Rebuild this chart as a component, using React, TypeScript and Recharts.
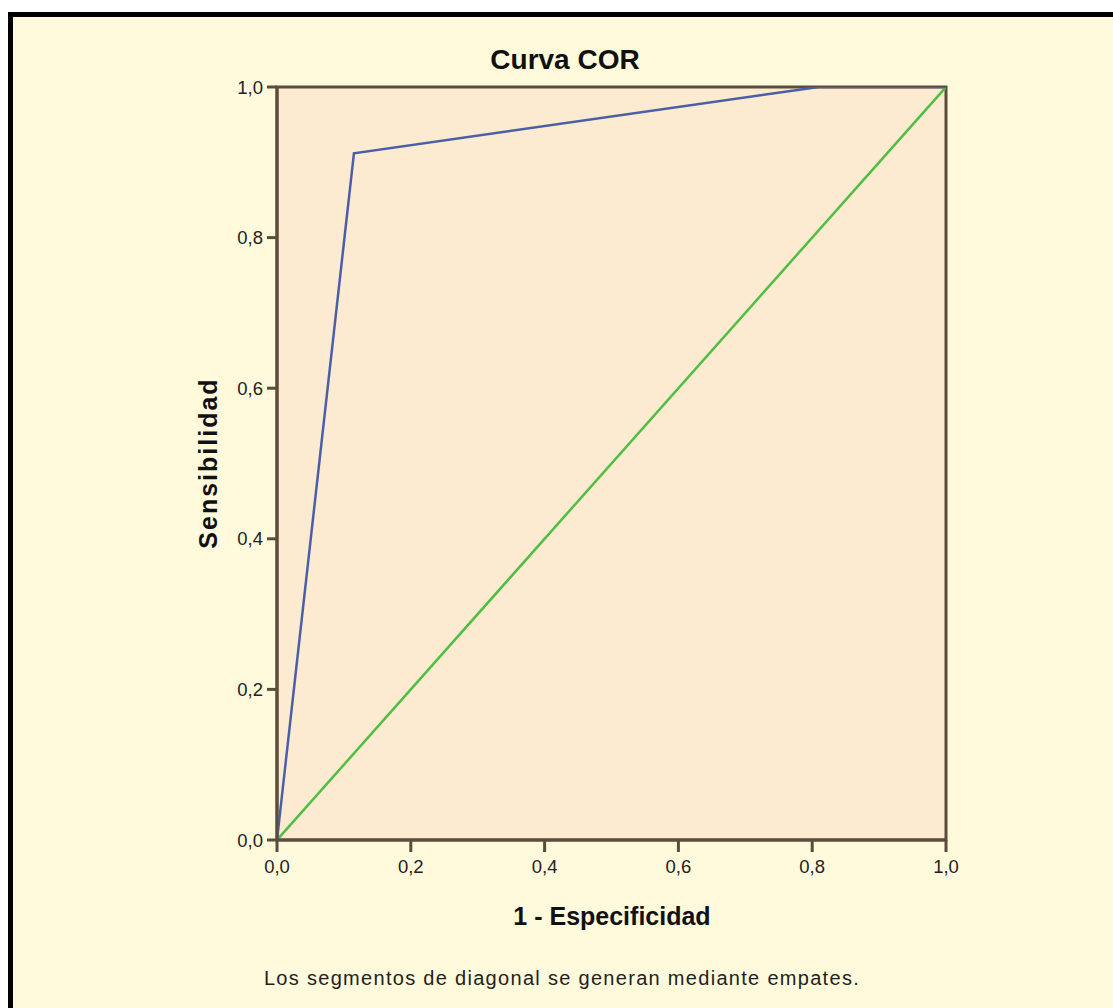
import React from 'react';
import {
  LineChart,
  Line,
  XAxis,
  YAxis,
  ReferenceArea,
} from 'recharts';

// ROC curve points (1 - specificity, sensitivity)
const rocFpr = [0, 0.115, 0.81, 1];
const rocTpr = [0, 0.912, 1, 1];
// reference diagonal
const refFpr = [0, 1];
const refTpr = [0, 1];
const axisTicks = [0, 0.2, 0.4, 0.6, 0.8, 1];

const rocData = rocFpr.map((x, i) => ({ x, y: rocTpr[i] }));
const refData = refFpr.map((x, i) => ({ x, y: refTpr[i] }));

const FONT = '"Liberation Sans", Arial, sans-serif';
const AXIS = '#5b4c3c';
const fmt = (v: number) => v.toFixed(1).replace('.', ',');

export default function App() {
  return (
    <div
      style={{
        position: 'absolute',
        left: 8,
        top: 12,
        width: 1105,
        height: 996,
        boxSizing: 'border-box',
        borderLeft: '5px solid #000',
        borderTop: '5px solid #000',
        background: '#FFFADC',
        fontFamily: FONT,
        overflow: 'hidden',
      }}
    >
      <div
        style={{
          position: 'absolute',
          left: 352,
          top: 29,
          width: 400,
          textAlign: 'center',
          fontSize: 28,
          lineHeight: 1,
          fontWeight: 'bold',
          color: '#111',
        }}
      >
        Curva COR
      </div>

      <div style={{ position: 'absolute', left: 0, top: 0 }}>
        <LineChart
          width={1100}
          height={990}
          margin={{ top: 70, right: 167, bottom: 127, left: 204 }}
        >
          <XAxis
            type="number"
            dataKey="x"
            domain={[0, 1]}
            ticks={axisTicks}
            tickFormatter={fmt}
            allowDataOverflow
            height={40}
            tickSize={12}
            tickMargin={8}
            stroke={AXIS}
            axisLine={{ stroke: AXIS, strokeWidth: 3 }}
            tickLine={{ stroke: AXIS, strokeWidth: 3 }}
            tick={{ fill: '#222', fontSize: 18.5, fontFamily: FONT }}
          />
          <YAxis
            type="number"
            dataKey="y"
            domain={[0, 1]}
            ticks={axisTicks}
            tickFormatter={fmt}
            allowDataOverflow
            width={60}
            tickSize={10}
            tickMargin={4}
            stroke={AXIS}
            axisLine={{ stroke: AXIS, strokeWidth: 3 }}
            tickLine={{ stroke: AXIS, strokeWidth: 3 }}
            tick={{ fill: '#222', fontSize: 18.5, fontFamily: FONT }}
          />
          <ReferenceArea
            x1={0}
            x2={1}
            y1={0}
            y2={1}
            fill="#FCEBD1"
            fillOpacity={1}
            stroke={AXIS}
            strokeWidth={3}
            ifOverflow="visible"
          />
          <Line
            data={refData}
            dataKey="y"
            type="linear"
            stroke="#50bd45"
            strokeWidth={2.5}
            dot={false}
            activeDot={false}
            isAnimationActive={false}
          />
          <Line
            data={rocData}
            dataKey="y"
            type="linear"
            stroke="#4b5eaa"
            strokeWidth={2.5}
            dot={false}
            activeDot={false}
            isAnimationActive={false}
          />
        </LineChart>
      </div>

      <div
        style={{
          position: 'absolute',
          left: 195 - 150,
          top: 446 - 13,
          width: 300,
          height: 26,
          textAlign: 'center',
          transform: 'rotate(-90deg)',
          fontSize: 25,
          lineHeight: '26px',
          fontWeight: 'bold',
          letterSpacing: 2,
          color: '#111',
        }}
      >
        Sensibilidad
      </div>

      <div
        style={{
          position: 'absolute',
          left: 399,
          top: 887,
          width: 400,
          textAlign: 'center',
          fontSize: 25,
          lineHeight: 1,
          fontWeight: 'bold',
          color: '#111',
        }}
      >
        1 - Especificidad
      </div>

      <div
        style={{
          position: 'absolute',
          left: 549 - 400,
          top: 951,
          width: 800,
          textAlign: 'center',
          fontSize: 20,
          lineHeight: 1,
          letterSpacing: 1.3,
          color: '#222',
        }}
      >
        Los segmentos de diagonal se generan mediante empates.
      </div>
    </div>
  );
}
